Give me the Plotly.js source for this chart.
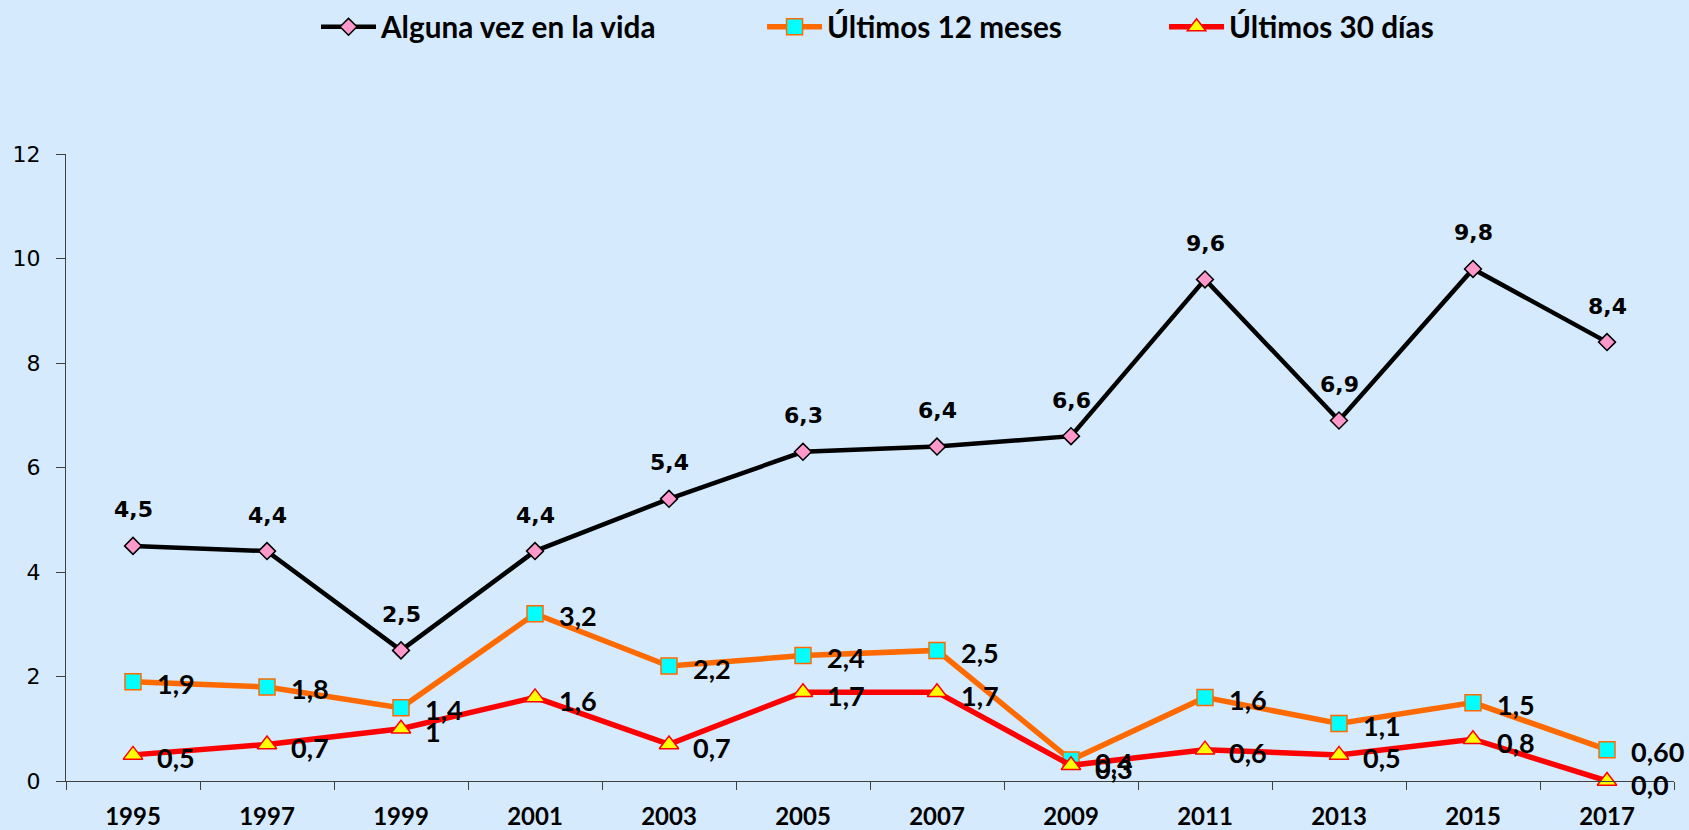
<!DOCTYPE html>
<html>
<head>
<meta charset="utf-8">
<script src="https://cdn.plot.ly/plotly-3.0.1.min.js"></script>
<style>html,body{margin:0;padding:0;background:#d5eafd;}</style>
</head>
<body>
<div id="chart" style="width:1689px;height:830px;"></div>
<script>
const years = ['1995','1997','1999','2001','2003','2005','2007','2009','2011','2013','2015','2017'];
const vida = [4.5, 4.4, 2.5, 4.4, 5.4, 6.3, 6.4, 6.6, 9.6, 6.9, 9.8, 8.4];
const vidaLabels = ['4,5','4,4','2,5','4,4','5,4','6,3','6,4','6,6','9,6','6,9','9,8','8,4'];
const meses12 = [1.9, 1.8, 1.4, 3.2, 2.2, 2.4, 2.5, 0.4, 1.6, 1.1, 1.5, 0.60];
const meses12Labels = ['1,9','1,8','1,4','3,2','2,2','2,4','2,5','0,4','1,6','1,1','1,5','0,60'];
const dias30 = [0.5, 0.7, 1.0, 1.6, 0.7, 1.7, 1.7, 0.3, 0.6, 0.5, 0.8, 0.0];
const dias30Labels = ['0,5','0,7','1','1,6','0,7','1,7','1,7','0,3','0,6','0,5','0,8','0,0'];
const names = ['Alguna vez en la vida','Últimos 12 meses','Últimos 30 días'];

const bg = '#d5eafd';
const labelFontA = {family:'DejaVu Sans', size:22, color:'#000000', weight:700};
const labelFontB = {family:'Lato', size:27, color:'#000000', weight:700};
const legendFont = {family:'Lato', size:29.7, color:'#000000', weight:700};

const traces = [
  {x: years, y: vida, name: names[0], type:'scatter', mode:'lines+markers', cliponaxis:false, legend:'legend',
   line:{color:'#000000', width:4.5},
   marker:{symbol:'diamond', size:13, color:'#ff99cc', line:{color:'#000000', width:1.5}}},
  {x: years, y: meses12, name: names[1], type:'scatter', mode:'lines+markers', cliponaxis:false, legend:'legend2',
   line:{color:'#ff6a00', width:5.5},
   marker:{symbol:'square', size:16, color:'#00ffff', line:{color:'#ff6a00', width:1.5}}},
  {x: years, y: dias30, name: names[2], type:'scatter', mode:'lines+markers', cliponaxis:false, legend:'legend3',
   line:{color:'#ff0000', width:5.5},
   marker:{symbol:'triangle-up', size:17, color:'#ffff00', line:{color:'#ff0000', width:1.5}}}
];

const annotations = [];
for (let i = 0; i < years.length; i++) {
  annotations.push({xref:'x', yref:'y', x: i, y: vida[i], text: vidaLabels[i], showarrow:false,
                    xanchor:'center', yanchor:'middle', yshift:36, font: labelFontA});
  annotations.push({xref:'x', yref:'y', x: i, y: meses12[i], text: meses12Labels[i], showarrow:false,
                    xanchor:'left', yanchor:'middle', xshift:22, yshift:-2, font: labelFontB});
  annotations.push({xref:'x', yref:'y', x: i, y: dias30[i], text: dias30Labels[i], showarrow:false,
                    xanchor:'left', yanchor:'middle', xshift:22, yshift:-3, font: labelFontB});
}

function legendAt(xPos) {
  return {orientation:'h', xref:'container', yref:'container', x:xPos, xanchor:'left',
          y:(830-27)/830, yanchor:'middle', font: legendFont, bgcolor:'rgba(0,0,0,0)', itemwidth:55};
}

const layout = {
  width:1689, height:830,
  paper_bgcolor: bg, plot_bgcolor: bg,
  margin:{l:66, r:15, t:154, b:49},
  showlegend:true,
  legend: legendAt(0.1871),
  legend2: legendAt(0.4512),
  legend3: legendAt(0.6892),
  xaxis:{type:'category', range:[-0.5, 11.5], tickson:'boundaries', ticks:'outside', ticklen:8, tickcolor:'#404040',
         showline:true, linecolor:'#404040', linewidth:1, showgrid:false, zeroline:false,
         tickfont:{family:'Lato', size:24, color:'#000000', weight:700}, ticklabelstandoff:14, fixedrange:true},
  yaxis:{range:[0,12], dtick:2, tick0:0, ticks:'outside', ticklen:9, tickcolor:'#404040',
         showline:true, linecolor:'#404040', linewidth:1, showgrid:false, zeroline:false,
         tickfont:{family:'DejaVu Sans', size:22, color:'#000000'}, ticklabelstandoff:11, fixedrange:true},
  annotations: annotations
};

Plotly.newPlot('chart', traces, layout, {displayModeBar:false});
</script>
</body>
</html>
